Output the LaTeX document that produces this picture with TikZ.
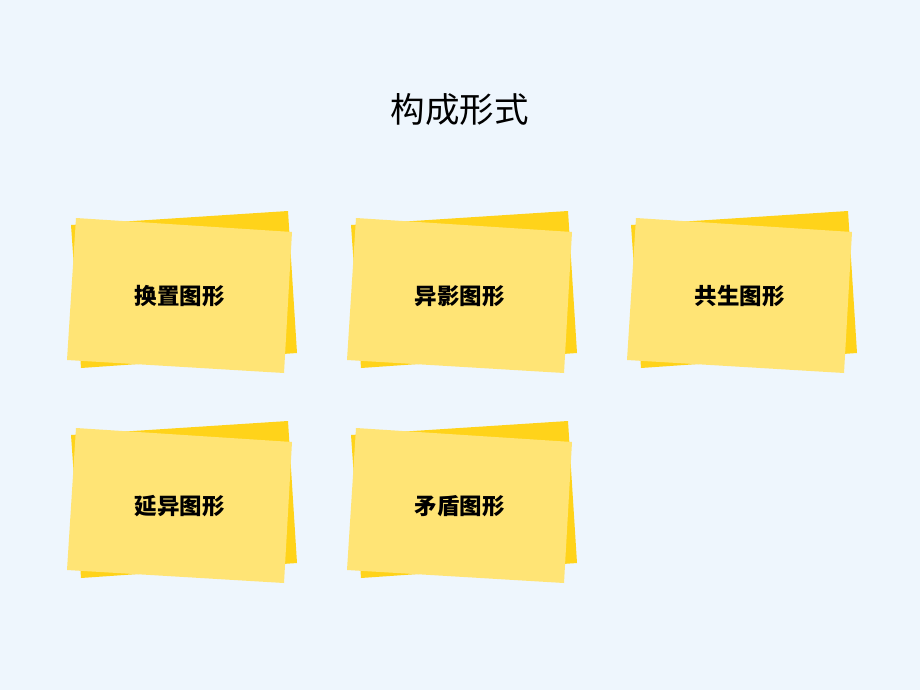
\documentclass[tikz,border=0pt]{standalone}
\usepackage{fontspec}
\newfontfamily\cjk{Noto Sans CJK SC}
\definecolor{bg}{HTML}{EEF6FD}
\definecolor{backcard}{HTML}{FFD31A}
\definecolor{frontcard}{HTML}{FFE475}
\tikzset{
  backshape/.style={fill=backcard},
  frontshape/.style={fill=frontcard},
  cardtext/.style={font=\cjk\bfseries\fontsize{22.5}{26}\selectfont, text=black},
}
\newcommand{\mycard}[4]{% #1 x offset, #2 y offset, #3 name, #4 text
  \begin{scope}[shift={(#1,#2)}]
    \fill[backshape] (71,225) -- (288,211) -- (297,353) -- (81,368) -- cycle;
    \fill[frontshape] (76,218) -- (292,232) -- (284,373) -- (67,360) -- cycle;
    \node[cardtext] (#3) at (179.5,296) {#4};
  \end{scope}
}
\begin{document}
\begin{tikzpicture}[x=1pt,y=-1pt]
  \fill[bg] (0,0) rectangle (920,690);
  \useasboundingbox (0,0) rectangle (920,690);
  \node[font=\cjk\fontsize{34.5}{40}\selectfont] (title) at (459.5,110) {构成形式};
  \mycard{0}{0}{c1}{换置图形}
  \mycard{280}{0}{c2}{异影图形}
  \mycard{560}{0}{c3}{共生图形}
  \mycard{0}{210}{c4}{延异图形}
  \mycard{280}{210}{c5}{矛盾图形}
\end{tikzpicture}
\end{document}
